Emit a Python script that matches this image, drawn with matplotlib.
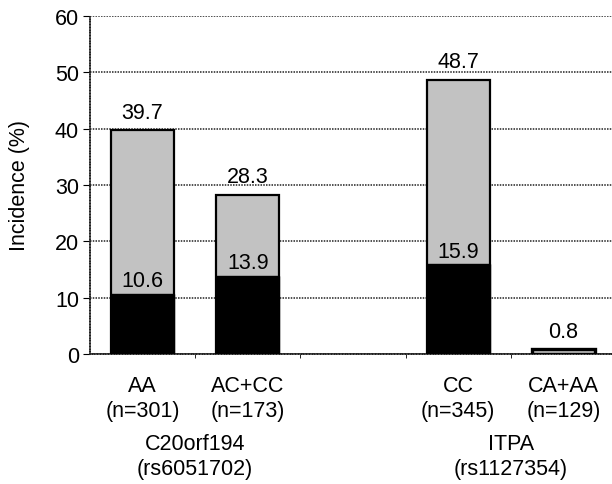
import numpy as np
import matplotlib
matplotlib.use("Agg")
import matplotlib.pyplot as plt

plt.rcParams['font.family'] = ['Liberation Sans', 'DejaVu Sans']

# genotype groups (an empty slot separates the two genes)
genotypes = ["AA\n(n=301)", "AC+CC\n(n=173)", "", "CC\n(n=345)", "CA+AA\n(n=129)"]
total_pct = [39.7, 28.3, None, 48.7, 0.8]
severe_pct = [10.6, 13.9, None, 15.9, None]
gene_labels = ["C20orf194\n(rs6051702)", "ITPA\n(rs1127354)"]

FS = 15.5

fig = plt.figure(figsize=(6.12, 4.85), dpi=100)
ax = fig.add_axes([90 / 612, 1 - 355 / 485, (616 - 90) / 612, (355 - 17) / 485])

x = np.arange(len(genotypes))
bar_w = 0.6
grey = "#c2c2c2"

for i, (tot, sev) in enumerate(zip(total_pct, severe_pct)):
    if tot is None:
        continue
    # very short bars get a heavier outline so they read as a solid strip
    lw = 2.4 if tot < 2 else 1.6
    ax.bar(x[i], tot, width=bar_w, color=grey, edgecolor="black", linewidth=lw, zorder=3)
    ax.text(x[i], tot + 1.3, f"{tot}", ha="center", va="bottom", fontsize=FS)
    if sev is not None:
        ax.bar(x[i], sev, width=bar_w, color="black", edgecolor="black", linewidth=1.0, zorder=4)
        ax.text(x[i], sev + 0.5, f"{sev}", ha="center", va="bottom", fontsize=FS, zorder=5)

ax.set_xlim(-0.5, len(genotypes) - 0.5)
ax.set_ylim(0, 60)
ax.set_yticks(np.arange(0, 61, 10))
ax.tick_params(axis="y", labelsize=FS, length=5, width=0.8, direction="out", pad=3)
ax.set_xticks(x[:-1] + 0.5)
ax.set_xticklabels([])
ax.tick_params(axis="x", length=3, width=0.6, direction="out")

ax.yaxis.grid(True, linestyle=(0, (1, 0.8)), color="#222222", linewidth=1.1, zorder=0)
ax.set_axisbelow(True)
for side in ("top", "right"):
    ax.spines[side].set_visible(False)
for side in ("left", "bottom"):
    ax.spines[side].set_linestyle((0, (1, 0.8)))
    ax.spines[side].set_linewidth(1.1)
    ax.spines[side].set_color("#222222")

for i, lab in enumerate(genotypes):
    if lab:
        ax.text(x[i], -3.8, lab, ha="center", va="top", fontsize=FS, linespacing=1.25)

ax.text((x[0] + x[1]) / 2, -14.0, gene_labels[0], ha="center", va="top", fontsize=FS, linespacing=1.25)
ax.text((x[3] + x[4]) / 2, -14.0, gene_labels[1], ha="center", va="top", fontsize=FS, linespacing=1.25)

fig.text(20 / 612, 1 - 186 / 485, "Incidence (%)", rotation=90, ha="center", va="center", fontsize=FS)

fig.savefig("out.png", dpi=100)
